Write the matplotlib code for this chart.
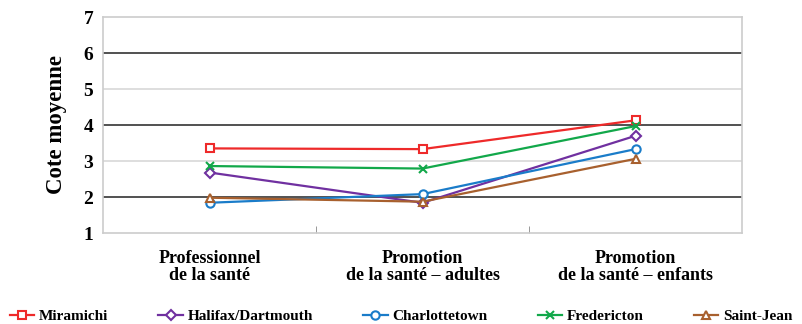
import matplotlib
matplotlib.use("Agg")
import matplotlib.pyplot as plt

categories = ["Professionnel\nde la santé", "Promotion\nde la santé – adultes", "Promotion\nde la santé – enfants"]
series_names = ["Miramichi", "Halifax/Dartmouth", "Charlottetown", "Fredericton", "Saint-Jean"]
miramichi = [3.35, 3.33, 4.13]
halifax = [2.68, 1.84, 3.70]
charlottetown = [1.84, 2.08, 3.33]
fredericton = [2.86, 2.79, 3.97]
saint_jean = [1.98, 1.87, 3.06]
yticks = [1, 2, 3, 4, 5, 6, 7]

values = [miramichi, halifax, charlottetown, fredericton, saint_jean]
colors = ["#ee2a2a", "#7030a0", "#1a7cc9", "#12a84a", "#a8602e"]
markers = ["s", "D", "o", "x", "^"]
msizes = [6, 5, 6, 6, 6]

plt.rcParams['font.family'] = ['Liberation Serif', 'DejaVu Serif']
fig = plt.figure(figsize=(8.02, 3.24), dpi=100)
ax = fig.add_axes([103/802, 1-233/324, 639/802, 216/324])

x = list(range(len(categories)))
for name, vals, c, m, ms in zip(series_names, values, colors, markers, msizes):
    ax.plot(x, vals, color=c, lw=1.6, marker=m, markersize=ms,
            markerfacecolor='white' if m != 'x' else c, markeredgecolor=c,
            markeredgewidth=1.5, label=name, zorder=3)

ax.set_xlim(-0.5, 2.5)
ax.set_ylim(1, 7)
ax.set_yticks(yticks)
ax.set_yticklabels([str(t) for t in yticks], fontsize=14, fontweight='bold')
for t in yticks[1:-1]:
    ax.axhline(t, color='#333333' if t % 2 == 0 else '#d8d8d8', lw=1.2, zorder=1)
ax.set_xticks(x)
ax.set_xticklabels(categories, fontsize=13, fontweight='bold', linespacing=1.05)
ax.tick_params(axis='x', length=0, pad=12)
ax.tick_params(axis='y', length=0, pad=7)
ax.set_xticks([0.5, 1.5], minor=True)
ax.tick_params(axis='x', which='minor', length=5, direction='in', color='#888888')
for s in ax.spines.values():
    s.set_color('#cccccc')
    s.set_linewidth(1.2)
ax.set_ylabel("Cote moyenne", fontsize=16.5, fontweight='bold', labelpad=12)

leg = fig.legend(loc='lower center', bbox_to_anchor=(0.5, -0.04), ncol=5, frameon=False,
                 prop={'size': 11, 'weight': 'bold'}, handlelength=1.6, columnspacing=3.3,
                 handletextpad=0.3)
fig.savefig("out.png", dpi=100)
